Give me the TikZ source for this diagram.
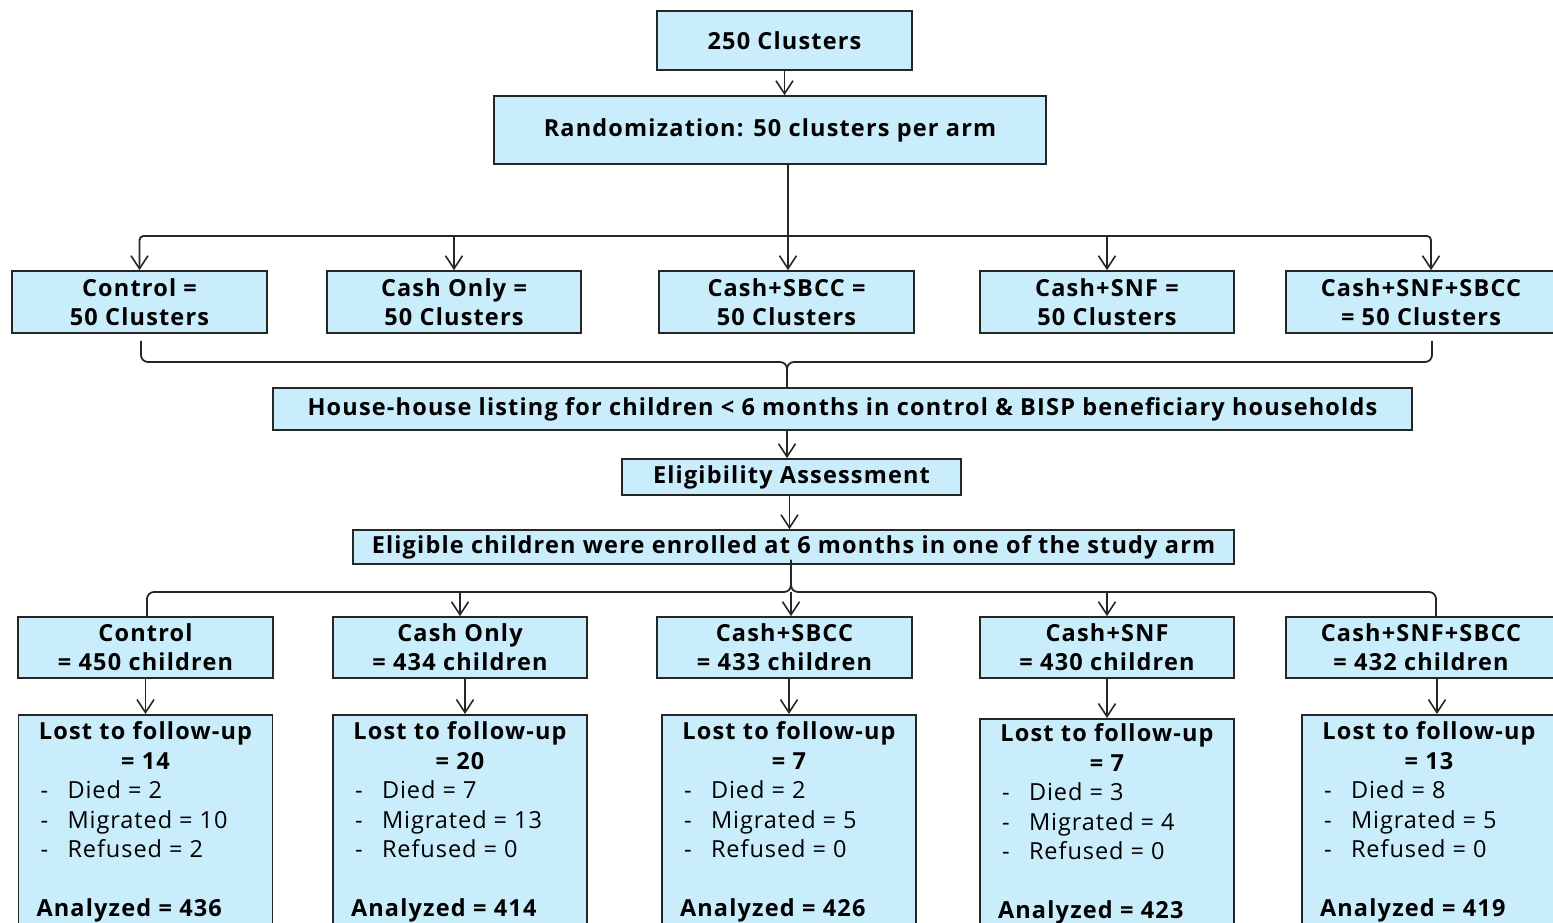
\documentclass[tikz,border=0pt]{standalone}
\usepackage{fontspec}
\setmainfont{Open Sans}[LetterSpace=4, BoldFeatures={LetterSpace=5}]
\usetikzlibrary{arrows.meta}
\definecolor{boxfill}{RGB}{202,237,251}
\definecolor{linec}{RGB}{38,38,38}
\newcommand{\ltfubox}[6]{%
\begin{minipage}[t][225pt][t]{254pt}%
\vspace*{#6}%
\centering\bfseries Lost to follow-up\\= #1\par
\raggedright\mdseries
\hspace*{22pt}\makebox[27pt][l]{-}Died = #2\\
\hspace*{22pt}\makebox[27pt][l]{-}Migrated = #3\\
\hspace*{22pt}\makebox[27pt][l]{-}Refused = #4\par
\vspace{29.5pt}%
\hspace*{18pt}\bfseries Analyzed = #5\par
\end{minipage}}
\begin{document}
\begin{tikzpicture}[x=1pt,y=-1pt,
 box/.style={draw=linec, fill=boxfill, line width=1.7pt, inner sep=0pt, align=center,
   font=\fontsize{23.5}{29}\selectfont\bfseries},
 lbox/.style={draw=linec, fill=boxfill, line width=1.7pt, inner sep=0pt, anchor=north,
   font=\fontsize{23.5}{29.5}\selectfont},
 conn/.style={draw=linec, line width=1.8pt},
 arr/.style={conn, -{Straight Barb[length=13pt,width=17pt,line width=1.6pt]}},
]
\useasboundingbox (0,0) rectangle (1553,922);
% top
\node[box, minimum width=255pt, minimum height=59pt] (top) at (784.5,40.5) {250 Clusters};
\node[box, minimum width=552pt, minimum height=68pt] (rand) at (770,130) {Randomization: 50 clusters per arm};
% clusters
\node[box, minimum width=255pt, minimum height=62pt] (c1) at (139.5,302) {Control =\\50 Clusters};
\node[box, minimum width=254pt, minimum height=62pt] (c2) at (454,302) {Cash Only =\\50 Clusters};
\node[box, minimum width=255pt, minimum height=62pt] (c3) at (786.5,302) {Cash+SBCC =\\50 Clusters};
\node[box, minimum width=254pt, minimum height=62pt] (c4) at (1107,302) {Cash+SNF =\\50 Clusters};
\node[box, minimum width=270pt, minimum height=62pt] (c5) at (1421,302) {Cash+SNF+SBCC\\= 50 Clusters};
% middle
\node[box, minimum width=1139pt, minimum height=42pt] (house) at (842.5,409) {House-house listing for children < 6 months in control \& BISP beneficiary households};
\node[box, minimum width=339pt, minimum height=36pt] (elig) at (791.5,477) {Eligibility Assessment};
\node[box, minimum width=881pt, minimum height=34pt] (enroll) at (793.5,547) {Eligible children were enrolled at 6 months in one of the study arm};
% children
\node[box, minimum width=255pt, minimum height=61pt] (k1) at (145.5,647.5) {Control\\= 450 children};
\node[box, minimum width=254pt, minimum height=61pt] (k2) at (460,647.5) {Cash Only\\= 434 children};
\node[box, minimum width=255pt, minimum height=61pt] (k3) at (784.5,647.5) {Cash+SBCC\\= 433 children};
\node[box, minimum width=254pt, minimum height=61pt] (k4) at (1107,647.5) {Cash+SNF\\= 430 children};
\node[box, minimum width=270pt, minimum height=61pt] (k5) at (1421,647.5) {Cash+SNF+SBCC\\= 432 children};
% lost to follow-up
\node[lbox] (l1) at (145.5,714) {\ltfubox{14}{2}{10}{2}{436}{7pt}};
\node[lbox] (l2) at (460,714) {\ltfubox{20}{7}{13}{0}{414}{7pt}};
\node[lbox] (l3) at (789,714) {\ltfubox{7}{2}{5}{0}{426}{7pt}};
\node[lbox] (l4) at (1107,718) {\ltfubox{7}{3}{4}{0}{423}{5pt}};
\node[lbox] (l5) at (1429,714) {\ltfubox{13}{8}{5}{0}{419}{7pt}};
% connectors
\coordinate (hb) at (788,236);
\coordinate (bt) at (787,362);
\coordinate (bb) at (791,592);
\draw[arr] (top.south) -- (top.south |- rand.north);
\draw[conn] (hb |- rand.south) -- (hb);
\draw[arr, rounded corners=4pt] (hb) -| (c1.north);
\draw[arr, rounded corners=4pt] (hb) -| ([xshift=10pt]c5.north);
\draw[arr] (hb -| c2.north) -- (c2.north);
\draw[arr] (hb) -- (hb |- c3.north);
\draw[arr] (hb -| c4.north) -- (c4.north);
\draw[conn, rounded corners=7pt] ([xshift=1.5pt,yshift=-7pt]c1.south) |- (bt) -- (bt |- house.north);
\draw[conn, rounded corners=7pt] ([xshift=11pt,yshift=-7pt]c5.south) |- (bt) -- (bt |- house.north);
\draw[arr] (bt |- house.south) -- (bt |- elig.north);
\draw[arr] ([xshift=-2pt]elig.south) -- ([xshift=-2pt]elig.south |- enroll.north);
\draw[conn, rounded corners=7pt] ([xshift=1.5pt]k1.north) |- (bb) -- ([yshift=5pt]bb |- enroll.south);
\draw[conn, rounded corners=7pt] ([xshift=15pt]k5.north) |- (bb) -- ([yshift=5pt]bb |- enroll.south);
\draw[arr] (bb -| k2.north) -- (k2.north);
\draw[arr] (bb) -- (bb |- k3.north);
\draw[arr] (bb -| k4.north) -- (k4.north);
\draw[arr] (k1.south) -- (k1.south |- l1.north);
\draw[arr] ([xshift=5pt]k2.south) -- ([xshift=5pt]k2.south |- l2.north);
\draw[arr] (l3.north |- k3.south) -- (l3.north);
\draw[arr] (k4.south) -- (k4.south |- l4.north);
\draw[arr] ([xshift=16pt]k5.south) -- ([xshift=16pt]k5.south |- l5.north);
\end{tikzpicture}
\end{document}
